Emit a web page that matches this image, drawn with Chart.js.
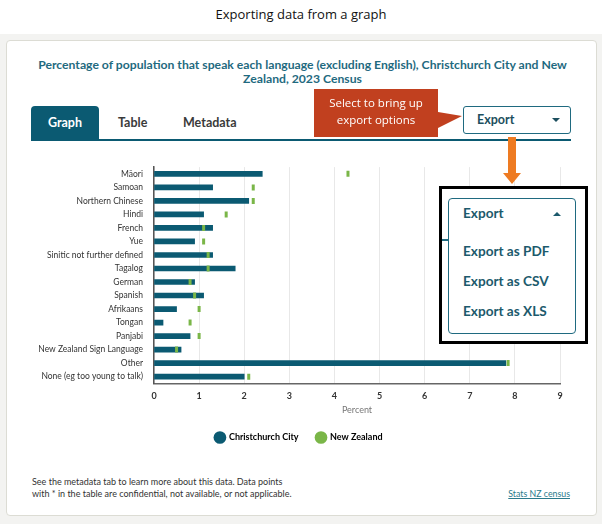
<!DOCTYPE html>
<html>
<head>
<meta charset="utf-8">
<script src="https://cdn.jsdelivr.net/npm/chart.js@4"></script>
<style>
  body { margin: 0; width: 602px; height: 524px; position: relative; background: #fff; font-family: Lato, "Open Sans", sans-serif; overflow: hidden; }
  .abs { position: absolute; }
  #pageTitle { left: 0; width: 602px; top: 5px; text-align: center; font-family: "Open Sans", sans-serif; font-size: 13px; color: #111; }
  #bg { left: 0; top: 34px; width: 602px; height: 490px; background: #f3f3f1; }
  #card { left: 6px; top: 40px; width: 589px; height: 474px; background: #fff; border: 1px solid #dcdcd4; border-radius: 4px; }
  #chartTitle { left: 20px; width: 565px; top: 58px; text-align: center; font-size: 12.2px; font-weight: 700; color: #1f6a80; line-height: 14px; }
  #tabGraph { left: 31px; top: 106px; width: 68px; height: 34px; background: #0b5a72; border-radius: 4px 4px 0 0; color: #fff; font-weight: 700; font-size: 12.5px; line-height: 34px; text-align: center; }
  .tab { top: 106px; height: 34px; line-height: 34px; font-size: 12.5px; font-weight: 700; color: #3a3a3a; }
  #tabLine { left: 31px; top: 139px; width: 540px; height: 2px; background: #0b5a72; }
  #exportBtn { left: 463px; top: 106px; width: 106px; height: 26px; border: 1.5px solid #1f6a80; border-radius: 3px; background: #fff; }
  #exportBtn span { position: absolute; left: 13px; top: 5px; font-size: 12.5px; font-weight: 700; color: #1c4f5e; }
  .tri { position: absolute; width: 0; height: 0; border-left: 4px solid transparent; border-right: 4px solid transparent; }
  #callout { left: 0; top: 0; }
  #calloutText { left: 314px; width: 124px; top: 94px; text-align: center; color: #fff; font-family: "Open Sans", sans-serif; font-size: 11.5px; line-height: 17px; }
  #dropOuter { left: 439px; top: 186px; width: 143px; height: 152px; border: 3px solid #000; background: #fff; }
  #dropInner { left: 448px; top: 198px; width: 126px; height: 134px; border: 1.5px solid #1f6a80; border-radius: 4px; background: #fff; }
  .item { left: 463px; font-size: 13.6px; font-weight: 700; color: #1c5a6c; }
  #footer { left: 32px; top: 476px; font-size: 9px; color: #333; line-height: 12px; }
  #source { left: 470px; width: 100px; top: 488px; text-align: right; font-size: 8.8px; color: #2a7a8c; text-decoration: underline; }
  #chartBox { left: 0; top: 151px; width: 602px; height: 301px; }
</style>
</head>
<body>
<div class="abs" id="pageTitle">Exporting data from a graph</div>
<div class="abs" id="bg"></div>
<div class="abs" id="card"></div>
<div class="abs" id="chartTitle">Percentage of population that speak each language (excluding English), Christchurch City and New<br>Zealand, 2023 Census</div>
<div class="abs" id="tabGraph">Graph</div>
<div class="abs tab" style="left:118px">Table</div>
<div class="abs tab" style="left:183px">Metadata</div>
<div class="abs" id="tabLine"></div>

<div class="abs" id="chartBox"><canvas id="chart"></canvas></div>

<div class="abs" id="exportBtn"><span>Export</span><div class="tri" style="left:88px;top:11px;border-top:4px solid #1c4f5e;"></div></div>

<svg class="abs" id="callout" width="602" height="200">
  <polygon points="314,89 438,89 438,112 462,116 438,128 438,137 314,137" fill="#c1401f"/>
</svg>
<div class="abs" id="calloutText">Select to bring up<br>export options</div>

<svg class="abs" style="left:0;top:0" width="602" height="200">
  <polygon points="508,137 516,137 516,173 521,173 512,184 503,173 508,173" fill="#ee7b22"/>
</svg>

<div class="abs" id="dropOuter"></div>
<div class="abs" style="left:442px;top:239px;width:8px;height:1.5px;background:#1f6a80"></div>
<div class="abs" id="dropInner"></div>
<div class="abs item" style="top:205px">Export</div>
<div class="abs tri" style="left:553px;top:212px;border-bottom:4px solid #1c5a6c;"></div>
<div class="abs item" style="top:243px">Export as PDF</div>
<div class="abs item" style="top:273px">Export as CSV</div>
<div class="abs item" style="top:303px">Export as XLS</div>

<div class="abs" id="footer">See the metadata tab to learn more about this data. Data points<br>with * in the table are confidential, not available, or not applicable.</div>
<div class="abs" id="source">Stats NZ census</div>

<script>
const languages = [
  'Māori', 'Samoan', 'Northern Chinese', 'Hindi', 'French', 'Yue',
  'Sinitic not further defined', 'Tagalog', 'German', 'Spanish', 'Afrikaans',
  'Tongan', 'Panjabi', 'New Zealand Sign Language', 'Other', 'None (eg too young to talk)'
];
const christchurchCity = [2.4, 1.3, 2.1, 1.1, 1.3, 0.9, 1.3, 1.8, 0.9, 1.1, 0.5, 0.2, 0.8, 0.6, 7.8, 2.0];
const newZealand = [4.3, 2.2, 2.2, 1.6, 1.1, 1.1, 1.2, 1.2, 0.8, 0.9, 1.0, 0.8, 1.0, 0.5, 7.85, 2.1];
const xTicks = [0, 1, 2, 3, 4, 5, 6, 7, 8, 9];

const teal = '#0b5a72';
const green = '#7ab648';

new Chart(document.getElementById('chart'), {
    type: 'bar',
    data: {
        labels: languages,
        datasets: [{
            label: 'Christchurch City',
            data: christchurchCity,
            backgroundColor: teal,
            barThickness: 5,
            order: 2
        }, {
            type: 'line',
            label: 'New Zealand',
            data: newZealand,
            indexAxis: 'y',
            showLine: false,
            borderColor: green,
            backgroundColor: green,
            pointStyle: 'line',
            rotation: 90,
            pointRadius: 3,
            pointBorderWidth: 3,
            pointBorderColor: green,
            order: 1
        }]
    },
    options: {
        indexAxis: 'y',
        responsive: true,
        maintainAspectRatio: false,
        animation: false,
        layout: {
            padding: { left: 38, right: 42, top: 5, bottom: 0 }
        },
        plugins: {
            tooltip: { enabled: false },
            legend: {
                position: 'bottom',
                labels: {
                    usePointStyle: true,
                    boxWidth: 9,
                    boxHeight: 9,
                    padding: 18,
                    color: '#333',
                    font: { family: 'Lato', size: 9, weight: 'bold' },
                    generateLabels: (chart) => chart.data.datasets.map((ds, i) => ({
                        text: ds.label,
                        fillStyle: i === 0 ? teal : green,
                        strokeStyle: i === 0 ? teal : green,
                        lineWidth: 0,
                        pointStyle: 'circle',
                        datasetIndex: i
                    }))
                }
            }
        },
        scales: {
            x: {
                min: 0,
                max: 9,
                afterBuildTicks: (scale) => { scale.ticks = xTicks.map(v => ({ value: v })); },
                grid: { color: '#e8e8e8', drawTicks: false },
                border: { color: '#666', width: 1.5 },
                ticks: { color: '#333', padding: 7, font: { family: 'Lato', size: 9, weight: 'bold' } },
                title: { display: true, text: 'Percent', color: '#777', padding: { top: -4, bottom: 0 }, font: { family: 'Lato', size: 9 } }
            },
            y: {
                afterFit: (scale) => { scale.width = 116; },
                grid: { display: false, drawTicks: false },
                border: { color: '#555', width: 1.5 },
                ticks: { color: '#333', padding: 11, autoSkip: false, font: { family: 'Lato', size: 8.5 } }
            }
        }
    }
});
</script>
</body>
</html>
